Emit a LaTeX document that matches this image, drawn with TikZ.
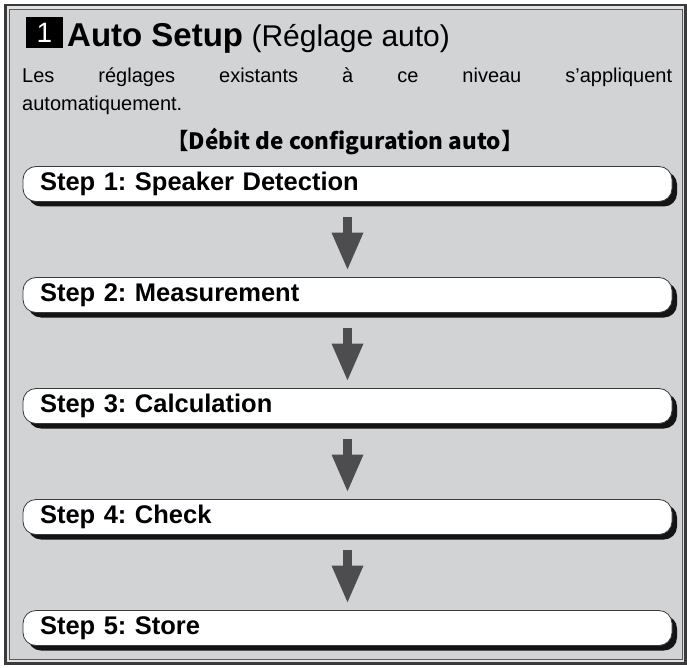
\documentclass[tikz,border=0pt]{standalone}
\usepackage{fontspec}
\setmainfont{Liberation Sans}
\newfontfamily\cjk{Noto Sans CJK JP}
\usetikzlibrary{shadows,arrows.meta}
\definecolor{panelgray}{HTML}{D2D3D5}
\definecolor{framegray}{HTML}{E2E2E3}
\definecolor{edgegray}{HTML}{3A3A3C}
\definecolor{arrowgray}{HTML}{4D4D4F}
\tikzset{
	stepbox/.style={draw=edgegray, line width=0.8pt, fill=white, rounded corners=13pt, minimum height=35pt, text width=615pt, inner xsep=17pt, inner ysep=0pt, align=left, font=\fontsize{25.5}{25.5}\selectfont\bfseries\frenchspacing, drop shadow={shadow xshift=5pt, shadow yshift=-5pt, fill=black!92, opacity=1}},
	flowarrow/.style={arrowgray, line width=9pt, -{Triangle[width=29pt,length=38pt]}}
}
\begin{document}
\begin{tikzpicture}[x=1pt,y=-1pt]
	\useasboundingbox (0,0) rectangle (687,668);
	% frame
	\filldraw[fill=framegray, draw=edgegray, line width=2.5pt] (5.5,5) rectangle (685.5,663.5);
	\filldraw[fill=panelgray, draw=black!65, line width=0.8pt] (9.5,9.5) rectangle (682.5,659);
	% heading
	\node[fill=black, text=white, minimum width=37pt, minimum height=31pt, inner sep=0, font=\fontsize{28}{28}\selectfont] (num) at (44.5,33) {1};
	\node[anchor=base west, inner sep=0] (title) at (67,47) {{\fontsize{33}{33}\selectfont\bfseries Auto Setup}{\fontsize{30}{30}\selectfont\ (Réglage auto)}};
	\node[anchor=north west, inner sep=0, text width=650pt, align=justify, font=\fontsize{20}{28}\selectfont] (intro) at (22,68) {Les réglages existants à ce niveau s’appliquent\linebreak automatiquement.};
	\node[anchor=base, inner sep=0, font=\cjk\bfseries\fontsize{22.5}{22.5}\selectfont] (flowtitle) at (345,150) {【Débit de configuration auto】};
	% steps
	\foreach \n/\stepname in {1/Speaker Detection,2/Measurement,3/Calculation,4/Check,5/Store}
		{
			\node[stepbox] (step\n) at (347.5,{184+111*(\n-1)}) {Step \n: \stepname};
		}
	\foreach \a/\b in {1/2,2/3,3/4,4/5}
		{
			\draw[flowarrow] ([yshift=-15pt]step\a.south) -- ([yshift=6.5pt]step\b.north);
		}
\end{tikzpicture}
\end{document}
